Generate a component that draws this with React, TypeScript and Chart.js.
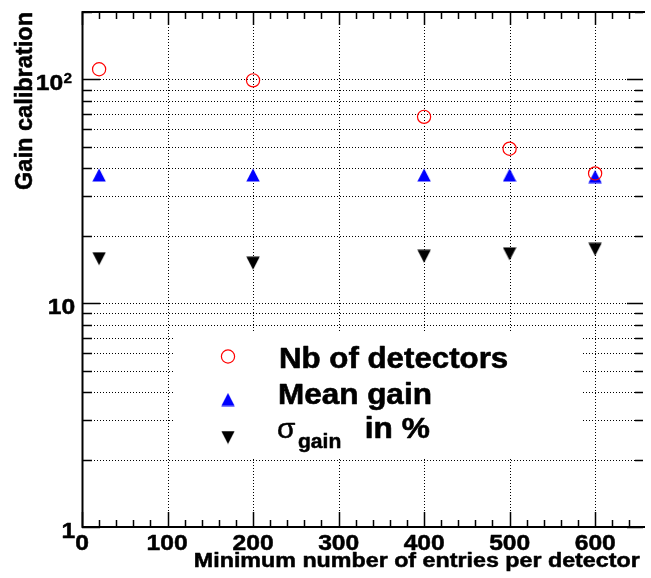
import { useEffect, useRef } from 'react';
import { Chart, registerables } from 'chart.js';

Chart.register(...registerables);

// Minimum number of entries per detector (x) and the three calibration quantities
const entries = [20, 200, 400, 500, 600];
const nbDetectors = [111, 99, 68, 49, 38];
const meanGain = [37.4, 37.4, 37.4, 37.4, 36.8];
const sigmaGain = [15.8, 15.1, 16.2, 16.6, 17.4];

// Axis ranges and labelled ticks
const X_MIN = 0;
const X_MAX = 656;
const Y_MIN = 1;
const Y_MAX = 200;
const xMajorTicks = [0, 100, 200, 300, 400, 500, 600];
const xTickLabels = ['0', '100', '200', '300', '400', '500', '600'];
const xGridValues = [100, 200, 300, 400, 500, 600];
const yMajorTicks = [1, 10, 100];
const yTickLabels = ['1', '10', '10^2'];

const xTitle = 'Minimum number of entries per detector';
const yTitle = 'Gain calibration';
const legendLabels = ['Nb of detectors', 'Mean gain', 'in %'];

const FONT = '"Liberation Sans", Arial, Helvetica, sans-serif';

type Align = 'left' | 'right' | 'center';

function drawText(
  ctx: CanvasRenderingContext2D,
  text: string,
  font: string,
  x: number,
  y: number,
  align: Align,
  opts: { width?: number; sx?: number; sy?: number; heavy?: number } = {}
) {
  ctx.save();
  ctx.font = font;
  ctx.textAlign = 'left';
  ctx.textBaseline = 'alphabetic';
  ctx.fillStyle = '#000';
  const m = ctx.measureText(text);
  const l = m.actualBoundingBoxLeft;
  const r = m.actualBoundingBoxRight;
  const sx = opts.width ? opts.width / (l + r) : opts.sx ?? 1;
  const sy = opts.sy ?? 1;
  let tx: number;
  if (align === 'left') tx = x + l * sx;
  else if (align === 'right') tx = x - r * sx;
  else tx = x - ((r - l) * sx) / 2;
  ctx.translate(tx, y);
  ctx.scale(sx, sy);
  ctx.fillText(text, 0, 0);
  if (opts.heavy) {
    ctx.strokeStyle = '#000';
    ctx.lineWidth = opts.heavy;
    ctx.lineJoin = 'round';
    ctx.strokeText(text, 0, 0);
  }
  ctx.restore();
}

function makeTriangle(color: string, up: boolean): HTMLCanvasElement {
  const c = document.createElement('canvas');
  c.width = 14;
  c.height = 14;
  const g = c.getContext('2d')!;
  g.fillStyle = color;
  g.beginPath();
  if (up) {
    g.moveTo(7, 0.5);
    g.lineTo(13.7, 13.5);
    g.lineTo(0.3, 13.5);
  } else {
    g.moveTo(0.3, 0.5);
    g.lineTo(13.7, 0.5);
    g.lineTo(7, 13.5);
  }
  g.closePath();
  g.fill();
  return c;
}

function logSubdivisions(includeEnds: boolean): number[] {
  const out: number[] = [];
  for (const d of [1, 10, 100]) {
    for (let k = 1; k <= 9; k++) {
      const v = k * d;
      if (includeEnds ? v >= Y_MIN && v <= Y_MAX : v > Y_MIN && v < Y_MAX) out.push(v);
    }
  }
  return out;
}

export default function App() {
  const ref = useRef<HTMLCanvasElement>(null);

  useEffect(() => {
    const canvas = ref.current!;
    const upTri = makeTriangle('#0000ff', true);
    const downTri = makeTriangle('#000000', false);

    const framePlugin = {
      id: 'rootFrame',
      beforeDatasetsDraw(chart: any) {
        const { ctx, chartArea: a } = chart;
        const xs = chart.scales.x;
        const ys = chart.scales.y;
        ctx.save();
        ctx.strokeStyle = '#000';
        ctx.lineWidth = 1;
        ctx.setLineDash([1, 2]);
        for (const v of xGridValues) {
          const px = Math.round(xs.getPixelForValue(v)) + 0.5;
          ctx.beginPath();
          ctx.moveTo(px, a.top);
          ctx.lineTo(px, a.bottom);
          ctx.stroke();
        }
        for (const v of logSubdivisions(false)) {
          const py = Math.round(ys.getPixelForValue(v)) + 0.5;
          ctx.beginPath();
          ctx.moveTo(a.left, py);
          ctx.lineTo(a.right, py);
          ctx.stroke();
        }
        ctx.restore();
      },
      afterDatasetsDraw(chart: any) {
        const { ctx, chartArea: a } = chart;
        const xs = chart.scales.x;
        const ys = chart.scales.y;

        // legend box
        ctx.save();
        ctx.fillStyle = '#fff';
        ctx.fillRect(175, 333, 407, 124);
        ctx.strokeStyle = '#ff0000';
        ctx.lineWidth = 1.2;
        ctx.beginPath();
        ctx.arc(228, 356.5, 6.6, 0, Math.PI * 2);
        ctx.stroke();
        ctx.drawImage(upTri, 221, 392.5);
        ctx.drawImage(downTri, 221, 430.5);
        ctx.restore();
        drawText(ctx, legendLabels[0], `bold 29px ${FONT}`, 280, 368, 'left', { width: 227, heavy: 0.6 });
        drawText(ctx, legendLabels[1], `bold 29px ${FONT}`, 279, 404, 'left', { width: 151, heavy: 0.6 });
        drawText(ctx, '\u03c3', `28px ${FONT}`, 278, 438, 'left', { width: 17, heavy: 0.5 });
        drawText(ctx, 'gain', `bold 20px ${FONT}`, 298, 448, 'left', { width: 42, heavy: 0.5 });
        drawText(ctx, legendLabels[2], `bold 29px ${FONT}`, 367, 438, 'left', { width: 63, heavy: 0.6 });

        // frame
        ctx.save();
        ctx.strokeStyle = '#000';
        ctx.lineWidth = 2;
        ctx.beginPath();
        ctx.moveTo(a.right + 2, a.top);
        ctx.lineTo(a.left + 0.5, a.top);
        ctx.lineTo(a.left + 0.5, a.bottom);
        ctx.lineTo(a.right + 2, a.bottom);
        ctx.stroke();

        // tick marks
        ctx.lineWidth = 1.5;
        ctx.beginPath();
        for (let v = 0; v <= X_MAX; v += 20) {
          const px = Math.round(xs.getPixelForValue(v)) + 0.5;
          const major = v % 100 === 0;
          ctx.moveTo(px, a.bottom);
          ctx.lineTo(px, a.bottom - (major ? 15 : 7));
          ctx.moveTo(px, a.top);
          ctx.lineTo(px, a.top + (major ? 13 : 7));
        }
        for (const v of logSubdivisions(true)) {
          const py = Math.round(ys.getPixelForValue(v)) + 0.5;
          const major = yMajorTicks.includes(v);
          ctx.moveTo(a.left, py);
          ctx.lineTo(a.left + (major ? 18 : 10), py);
          ctx.moveTo(a.right, py);
          ctx.lineTo(a.right - (major ? 16 : 8), py);
        }
        ctx.stroke();
        ctx.restore();

        // x tick labels
        xMajorTicks.forEach((v, i) => {
          const px = xs.getPixelForValue(v);
          drawText(ctx, xTickLabels[i], `bold 22px ${FONT}`, px, a.bottom + 23, 'center', { sx: 1.12, heavy: 0.5 });
        });

        // y tick labels (powers of ten)
        yMajorTicks.forEach((v, i) => {
          const py = ys.getPixelForValue(v) + 10.5;
          const label = yTickLabels[i];
          if (label.includes('^')) {
            const [base, exp] = label.split('^');
            drawText(ctx, base, `bold 22px ${FONT}`, 63, py, 'right', { sx: 1.12, heavy: 0.5 });
            drawText(ctx, exp, `bold 14px ${FONT}`, 63.5, py - 7, 'left', { sx: 1.1, heavy: 0.3 });
          } else {
            drawText(ctx, label, `bold 22px ${FONT}`, 75, py, 'right', { sx: 1.12, heavy: 0.5 });
          }
        });

        // axis titles
        drawText(ctx, xTitle, `bold 20px ${FONT}`, 640, 567, 'right', { width: 445, heavy: 0.5 });
        ctx.save();
        ctx.translate(32, 190);
        ctx.rotate(-Math.PI / 2);
        drawText(ctx, yTitle, `bold 23px ${FONT}`, 0, 0, 'left', { width: 177, sy: 1.08, heavy: 0.5 });
        ctx.restore();
      },
    };

    const chart = new Chart(canvas, {
      type: 'scatter',
      data: {
        datasets: [
          {
            label: 'Nb of detectors',
            data: entries.map((x, i) => ({ x, y: nbDetectors[i] })),
            pointStyle: 'circle',
            pointRadius: 6.6,
            borderWidth: 1.2,
            borderColor: '#ff0000',
            backgroundColor: 'rgba(0,0,0,0)',
          },
          {
            label: 'Mean gain',
            data: entries.map((x, i) => ({ x, y: meanGain[i] })),
            pointStyle: upTri as any,
            pointRadius: 7,
          },
          {
            label: 'sigma gain in %',
            data: entries.map((x, i) => ({ x, y: sigmaGain[i] })),
            pointStyle: downTri as any,
            pointRadius: 7,
          },
        ],
      },
      options: {
        responsive: false,
        animation: false,
        events: [],
        layout: { padding: { top: 12, left: 0, right: 0, bottom: 0 } },
        plugins: {
          legend: { display: false },
          tooltip: { enabled: false },
          title: { display: false },
        },
        scales: {
          x: {
            type: 'linear',
            min: X_MIN,
            max: X_MAX,
            grid: { display: false },
            border: { display: false },
            ticks: { display: false },
            afterFit: (s: any) => {
              s.height = 51;
            },
          },
          y: {
            type: 'logarithmic',
            min: Y_MIN,
            max: Y_MAX,
            grid: { display: false },
            border: { display: false },
            ticks: { display: false },
            afterFit: (s: any) => {
              s.width = 82;
            },
          },
        },
      },
      plugins: [framePlugin],
    });

    return () => chart.destroy();
  }, []);

  return (
    <div style={{ position: 'absolute', left: 0, top: 0, width: 651, height: 578, background: '#fff' }}>
      <canvas ref={ref} width={651} height={578} style={{ display: 'block', width: 651, height: 578 }} />
    </div>
  );
}
